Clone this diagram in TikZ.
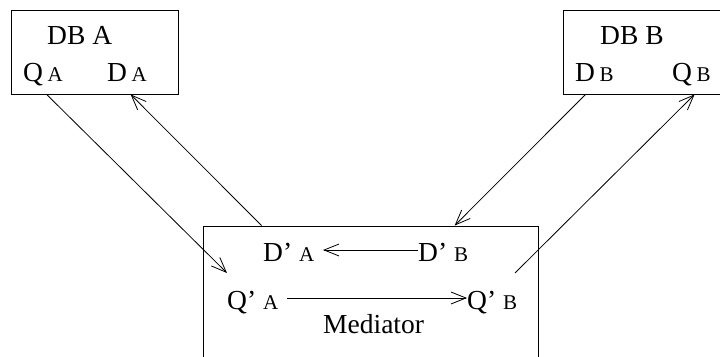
\documentclass[tikz,border=0pt]{standalone}
\usepackage{fontspec}
\setmainfont{Liberation Serif}
\usetikzlibrary{arrows.meta}
\newcommand{\smallsub}[1]{{\fontsize{21}{22}\selectfont #1}}
\tikzset{
  dbbox/.style={draw, line width=0.8pt, minimum height=84pt, inner sep=0pt},
  lbl/.style={anchor=base west, inner sep=0pt, font=\fontsize{27.5}{30}\selectfont},
  flow/.style={line width=0.8pt, -{Straight Barb[length=15pt,width=12pt,line width=0.8pt]}}
}
\begin{document}
\begin{tikzpicture}[x=1pt,y=1pt]
    \useasboundingbox (0,0) rectangle (720,356);
    % boxes
    \node[dbbox, minimum width=167pt] (boxA) at (94.5,304) {};
    \node[dbbox, minimum width=160pt] (boxB) at (643,304) {};
    \node[dbbox, minimum width=335pt, minimum height=140pt] (med) at (370.5,60) {};
    % texts in the boxes
    \node[lbl] (dbA) at (47,311) {DB A};
    \node[lbl] (qA) at (23,274) {Q\,\smallsub{A}};
    \node[lbl] (dA) at (107,274) {D\,\smallsub{A}};
    \node[lbl] (dbB) at (600,311) {DB B};
    \node[lbl] (dB) at (575,274) {D\,\smallsub{B}};
    \node[lbl] (qB) at (672,274) {Q\,\smallsub{B}};
    \node[lbl] (dpA) at (263,94) {D’ \smallsub{A}};
    \node[lbl] (dpB) at (418,94) {D’ \smallsub{B}};
    \node[lbl] (qpA) at (227,46) {Q’ \smallsub{A}};
    \node[lbl] (qpB) at (467,46) {Q’ \smallsub{B}};
    \node[lbl] (medname) at (323,23) {Mediator};
    % free ends inside the mediator
    \coordinate (qin) at (227,83);
    \coordinate (qout) at (515,83);
    % connectors
    \draw[flow] ([xshift=36pt]boxA.south west) -- (qin);
    \draw[flow] ([xshift=59pt]med.north west) -- ([xshift=120pt]boxA.south west);
    \draw[flow] ([xshift=23pt]boxB.south west) -- ([xshift=252pt]med.north west);
    \draw[flow] (qout) -- ([xshift=132pt]boxB.south west);
    \draw[flow] (dpB.west |- 0,106) -- (323,106);
    \draw[flow] (287,58) -- (qpB.west |- 0,58);
\end{tikzpicture}
\end{document}
